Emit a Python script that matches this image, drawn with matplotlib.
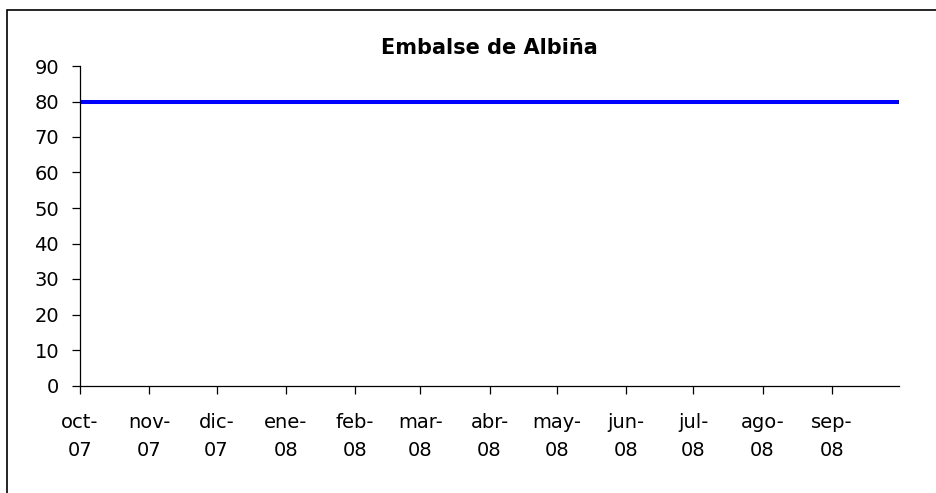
from datetime import date

import matplotlib

matplotlib.use("Agg")
import matplotlib.pyplot as plt
from matplotlib.patches import Rectangle

plt.rcParams["font.family"] = ["DejaVu Sans"]

# monthly readings of the reservoir level
fechas = [date(2007, 10, 1), date(2007, 11, 1), date(2007, 12, 1), date(2008, 1, 1),
          date(2008, 2, 1), date(2008, 3, 1), date(2008, 4, 1), date(2008, 5, 1),
          date(2008, 6, 1), date(2008, 7, 1), date(2008, 8, 1), date(2008, 9, 1),
          date(2008, 10, 1)]
nivel = [80, 80, 80, 80, 80, 80, 80, 80, 80, 80, 80, 80, 80]

meses = ["oct-\n07", "nov-\n07", "dic-\n07", "ene-\n08", "feb-\n08", "mar-\n08",
         "abr-\n08", "may-\n08", "jun-\n08", "jul-\n08", "ago-\n08", "sep-\n08"]
y_ticks = [0, 10, 20, 30, 40, 50, 60, 70, 80, 90]

W, H = 936, 493
fig = plt.figure(figsize=(W / 100, H / 100), dpi=100)
ax = fig.add_axes([80 / W, 1 - 385.5 / H, (899 - 80) / W, (385.5 - 66) / H])

ax.plot(fechas, nivel, color="#0000ff", linewidth=2.9, solid_capstyle="butt")

ax.set_xlim(fechas[0], fechas[-1])
ax.set_ylim(0, 90)
ax.set_yticks(y_ticks)
ax.set_xticks(fechas[:-1])
ax.set_xticklabels(meses, linespacing=1.6)

for side in ("top", "right"):
    ax.spines[side].set_visible(False)
for side in ("left", "bottom"):
    ax.spines[side].set_linewidth(0.9)
    ax.spines[side].set_color("black")
ax.tick_params(axis="both", direction="out", length=6, width=0.9, labelsize=14)
ax.tick_params(axis="y", pad=9)
ax.tick_params(axis="x", pad=14)

ax.set_title("Embalse de Albiña", fontsize=15, fontweight="bold", pad=9)

fig.add_artist(Rectangle((7 / W, -0.1), 2, (H - 10) / H + 0.1, transform=fig.transFigure,
                         fill=False, edgecolor="black", linewidth=1.2))

fig.savefig("out.png", dpi=100)
